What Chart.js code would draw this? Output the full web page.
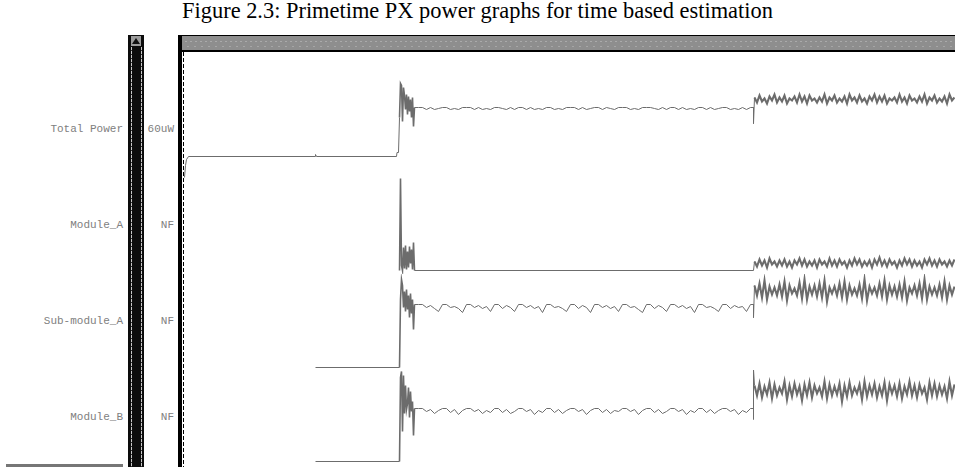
<!DOCTYPE html>
<html>
<head>
<meta charset="utf-8">
<script src="https://cdn.jsdelivr.net/npm/chart.js@4.4.1/dist/chart.umd.min.js"></script>
<style>
  html, body { margin: 0; padding: 0; background: #fff; }
  #page { position: relative; width: 955px; height: 467px; overflow: hidden; background: #fff; }
  #caption { position: absolute; left: 0; top: -2px; width: 955px; text-align: center;
             font: 22.4px "Liberation Serif", serif; line-height: 26px; color: #000; white-space: nowrap; }
  .name, .unit { position: absolute; font: 11px "Liberation Mono", monospace; line-height: 12px;
                 color: #808080; white-space: pre; }
  .name { right: 832px; text-align: right; }
  .unit { right: 781px; text-align: right; }
  #scroller { position: absolute; left: 128px; top: 35px; width: 16px; height: 432px; background: #0c0c0c; }
  #scroller .rail { position: absolute; top: 12px; bottom: 0; width: 1px;
                    background: repeating-linear-gradient(to bottom, #c8c8c8 0 3px, #333 3px 4px); }
  #scroller .arrowbox { position: absolute; left: 3px; top: 1px; width: 10px; height: 10px; background: #9c9c9c; }
  #scroller .arrow { position: absolute; left: 1px; top: 2px; width: 0; height: 0;
                     border-left: 4px solid transparent; border-right: 4px solid transparent; border-bottom: 6px solid #111; }
  #divider { position: absolute; left: 178px; top: 35px; width: 4px; height: 432px; background: #000; }
  #header { position: absolute; left: 182px; top: 35px; width: 773px; height: 14px;
            border-top: 1px solid #000; border-bottom: 2px solid #000;
            background:
              repeating-linear-gradient(to right, transparent 0 3px, rgba(255,255,255,0.25) 3px 5px) 0 5px / 100% 1px no-repeat,
              repeating-linear-gradient(to right, transparent 0 5px, rgba(255,255,255,0.22) 5px 7px) 0 10px / 100% 1px no-repeat,
              #8e8e8e; }
  #cursor { position: absolute; left: 183px; top: 52px; width: 1px; height: 415px;
            background: repeating-linear-gradient(to bottom, #000 0 4px, transparent 4px 6px); }
  #wave { position: absolute; left: 183px; top: 52px; width: 772px; height: 414px; }
  #footbar { position: absolute; left: 6px; top: 464px; width: 117px; height: 3px; background: #767676; }
</style>
</head>
<body>
<div id="page">
  <div id="caption">Figure 2.3: Primetime PX power graphs for time based estimation</div>
  <div id="scroller">
    <div class="arrowbox"><div class="arrow"></div></div>
    <div class="rail" style="left:3px"></div>
    <div class="rail" style="left:13px"></div>
  </div>
  <div id="divider"></div>
  <div id="header"></div>
  <div id="cursor"></div>
  <div id="footbar"></div>
  <div id="wave"><canvas id="powerChart" width="772" height="414"></canvas></div>
</div>
<script>
// signal list shown in the name / value columns
const signalNames = ['Total Power', 'Module_A', 'Sub-module_A', 'Module_B'];
const signalUnits = ['60uW', 'NF', 'NF', 'NF'];

// time base (ns)
const timeEnd = 771.5;
const burstStart = 216;   // start-up burst, 1 ns samples
const steadyStart = 231;  // idle phase, 4 ns samples
const steadyStep = 4;
const switchTime = 570;   // second workload kicks in
const noiseStart = 571;   // busy phase, 2.5 ns samples
const noiseStep = 2.5;

// Total Power
const totalPowerEdgeTimes  = [1, 2, 3, 5, 132, 132, 133, 213, 213.5, 215];
const totalPowerEdgeValues = [0, 12, 18, 21, 21, 23, 21, 21, 25, 25];
const totalPowerBurst = [60, 94, 92, 56, 90, 82, 68, 83, 63, 81, 66, 78, 60, 80, 51];
const totalPowerSteady = [
  70, 70, 70, 68, 70, 68, 69, 70, 70, 68, 69, 68, 70, 70, 70, 68, 70, 68, 69, 68,
  70, 70, 69, 68, 70, 68, 70, 70, 68, 70, 68, 69, 68, 70, 70, 68, 69, 68, 70, 70,
  70, 68, 70, 68, 69, 70, 70, 68, 70, 69, 68, 70, 70, 70, 68, 69, 68, 70, 70, 70,
  69, 68, 70, 68, 70, 70, 68, 70, 68, 69, 68, 70, 70, 68, 70, 68, 69, 70, 70, 68,
  69, 68, 70, 68, 70];
const totalPowerSwitch = [70, 54];
const totalPowerNoise = [
  80, 75, 82, 76, 79, 74, 81, 77, 83, 75, 80, 76, 82, 74, 79, 77, 81, 75, 83, 76,
  81, 74, 82, 77, 79, 75, 80, 76, 83, 74, 80, 77, 82, 75, 79, 76, 81, 74, 83, 77,
  80, 75, 82, 76, 79, 74, 81, 77, 83, 75, 81, 76, 82, 74, 79, 77, 80, 75, 83, 76,
  80, 74, 82, 77, 79, 75, 81, 76, 83, 74, 80, 77, 82, 75, 79, 76, 81, 74, 83, 77, 80];

// Module_A
const moduleAEdgeTimes  = [];
const moduleAEdgeValues = [];
const moduleABurst = [3, 95, 8, 3, 26, 5, 28, 4, 22, 6, 27, 10, 24, 4, 31];
const moduleASteady = [3];
const moduleASwitch = [3];
const moduleANoise = [
  12, 7, 14, 8, 13, 6, 15, 9, 12, 7, 13, 8, 14, 7, 12, 6, 13, 9, 15, 8,
  14, 7, 12, 8, 13, 6, 14, 9, 12, 7, 15, 8, 13, 7, 14, 9, 12, 6, 13, 8,
  15, 9, 14, 7, 12, 8, 13, 6, 14, 9, 16, 8, 13, 7, 14, 9, 12, 6, 13, 8,
  15, 9, 14, 7, 13, 8, 12, 6, 14, 9, 15, 8, 13, 7, 14, 9, 12, 7, 13, 8, 14];

// Sub-module_A
const subModuleAEdgeTimes  = [132];
const subModuleAEdgeValues = [2];
const subModuleABurst = [2, 70, 90, 84, 62, 78, 58, 80, 60, 74, 52, 76, 56, 70, 40];
const subModuleASteady = [
  65, 65, 65, 62, 64, 61, 58, 65, 65, 62, 63, 61, 57, 65, 65, 62, 64, 61, 63, 58,
  65, 65, 61, 64, 62, 58, 65, 65, 62, 64, 61, 63, 57, 65, 65, 62, 63, 61, 58, 65,
  65, 61, 64, 62, 57, 65, 65, 62, 64, 61, 63, 58, 65, 65, 62, 63, 60, 57, 65, 65,
  61, 64, 62, 58, 65, 65, 62, 64, 61, 63, 57, 65, 65, 62, 63, 61, 58, 65, 65, 61,
  64, 62, 63, 58, 65];
const subModuleASwitch = [65, 52];
const subModuleANoise = [
  84, 74, 86, 72, 89, 70, 83, 75, 82, 74, 85, 73, 88, 69, 84, 76, 81, 74, 87, 71,
  90, 70, 83, 75, 84, 73, 86, 72, 89, 68, 82, 76, 83, 74, 86, 72, 88, 70, 84, 75,
  81, 74, 85, 71, 90, 69, 83, 76, 82, 74, 86, 73, 89, 70, 84, 75, 83, 73, 85, 72,
  88, 69, 82, 76, 84, 74, 86, 71, 90, 70, 83, 75, 82, 74, 85, 72, 88, 70, 84, 75, 83];

// Module_B
const moduleBEdgeTimes  = [132];
const moduleBEdgeValues = [4];
const moduleBBurst = [4, 88, 94, 34, 90, 52, 80, 56, 62, 78, 48, 74, 54, 64, 30];
const moduleBSteady = [
  57, 57, 57, 54, 56, 52, 55, 57, 57, 53, 56, 51, 55, 57, 57, 54, 56, 52, 55, 53,
  57, 57, 53, 56, 52, 54, 57, 57, 54, 56, 51, 55, 53, 57, 57, 53, 56, 52, 55, 57,
  57, 54, 56, 51, 55, 57, 57, 53, 56, 52, 55, 54, 57, 57, 54, 56, 51, 55, 57, 57,
  53, 56, 52, 54, 57, 57, 54, 56, 51, 55, 53, 57, 57, 53, 56, 52, 55, 57, 57, 54,
  56, 51, 55, 53, 57];
const moduleBSwitch = [57, 46, 96];
const moduleBNoise = [
  80, 70, 82, 68, 79, 71, 83, 67, 81, 70, 78, 72, 84, 66, 80, 69, 82, 71, 79, 65,
  81, 70, 83, 68, 80, 72, 78, 69, 84, 67, 81, 70, 79, 71, 82, 64, 80, 69, 83, 70,
  78, 72, 81, 66, 84, 69, 80, 71, 82, 68, 79, 70, 83, 65, 81, 72, 80, 69, 82, 67,
  79, 71, 84, 70, 80, 68, 81, 72, 78, 66, 83, 70, 82, 69, 80, 71, 79, 67, 84, 70, 81];

// join the pieces of one signal into x/y points
function buildTrace(edgeTimes, edgeValues, burst, steady, switchValues, noise) {
  var pts = edgeTimes.map(function (t, i) { return {x: t, y: edgeValues[i]} })
  burst.forEach(function (v, i) { pts.push({x: burstStart + i, y: v}) })
  steady.forEach(function (v, i) { pts.push({x: steadyStart + i * steadyStep, y: v}) })
  switchValues.forEach(function (v) { pts.push({x: switchTime, y: v}) })
  noise.forEach(function (v, i) { pts.push({x: noiseStart + i * noiseStep, y: v}) })
  return pts
}

// busy stretches are drawn heavier so the noise reads as a solid band
function segWidth(ctx) {
  var t = ctx.p0.parsed.x
  if (t > switchTime) return 2.1
  if (t >= burstStart && t < steadyStart) return 1.6
  return 1
}

var traceColor = '#6c6c6c'
function trace(axis, pts) {
  return {
    data: pts, yAxisID: axis,
    borderColor: traceColor, borderWidth: 1,
    pointRadius: 0, tension: 0, fill: false,
    segment: { borderWidth: segWidth }
  }
}

// one row per signal, stacked top to bottom
function track(weight) {
  return {
    type: 'linear', position: 'right', stack: 'tracks', stackWeight: weight,
    min: -0.5, max: weight - 0.5, display: false
  }
}

var chart = new Chart(document.getElementById('powerChart'), {
  type: 'line',
  data: {
    datasets: [
      trace('yTotal', buildTrace(totalPowerEdgeTimes, totalPowerEdgeValues, totalPowerBurst,
                                 totalPowerSteady, totalPowerSwitch, totalPowerNoise)),
      trace('yModA', buildTrace(moduleAEdgeTimes, moduleAEdgeValues, moduleABurst,
                                moduleASteady, moduleASwitch, moduleANoise)),
      trace('ySubA', buildTrace(subModuleAEdgeTimes, subModuleAEdgeValues, subModuleABurst,
                                subModuleASteady, subModuleASwitch, subModuleANoise)),
      trace('yModB', buildTrace(moduleBEdgeTimes, moduleBEdgeValues, moduleBBurst,
                                moduleBSteady, moduleBSwitch, moduleBNoise))
    ]
  },
  options: {
    responsive: false,
    animation: false,
    devicePixelRatio: 1,
    layout: { padding: 0 },
    plugins: { legend: { display: false }, tooltip: { enabled: false }, title: { display: false } },
    scales: {
      x: { type: 'linear', min: -0.5, max: timeEnd, display: false },
      yTotal: track(126),
      yModA: track(96),
      ySubA: track(96),
      yModB: track(96)
    }
  }
})

// signal names and values, centred on the lower 96px of each row
var page = document.getElementById('page')
var axisIds = ['yTotal', 'yModA', 'ySubA', 'yModB']
axisIds.forEach(function (id, i) {
  var sc = chart.scales[id]
  var mid = 52 + sc.bottom - 48
  var n = document.createElement('div')
  n.className = 'name'
  n.style.top = (mid - 7) + 'px'
  n.textContent = signalNames[i]
  page.appendChild(n)
  var u = document.createElement('div')
  u.className = 'unit'
  u.style.top = (mid - 7) + 'px'
  u.textContent = signalUnits[i]
  page.appendChild(u)
})
</script>
</body>
</html>
